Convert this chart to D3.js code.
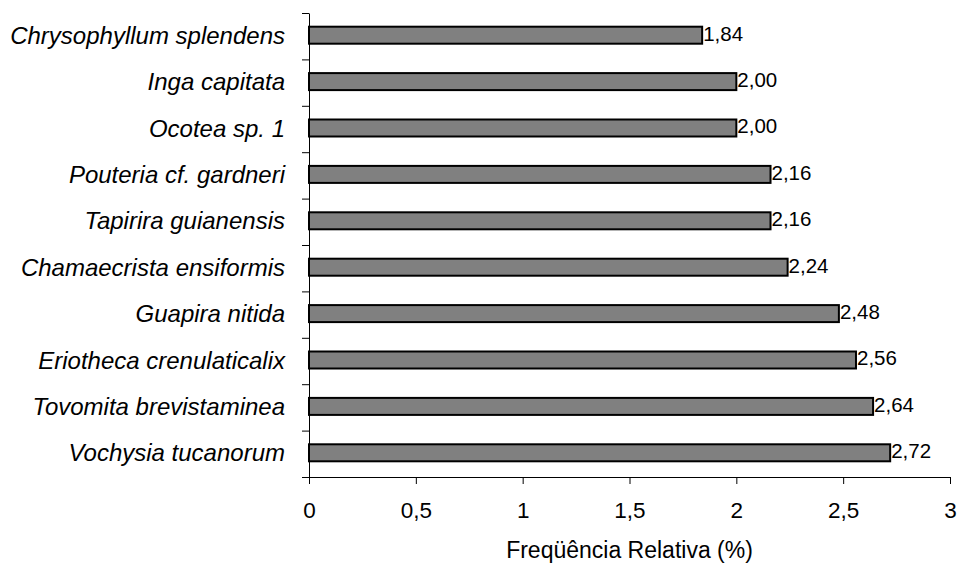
<!DOCTYPE html>
<html>
<head>
<meta charset="utf-8">
<script src="https://cdn.jsdelivr.net/npm/d3@7"></script>
<style>
  body { margin: 0; background: #fff; }
  svg { display: block; font-family: "Liberation Sans", Arial, sans-serif; }
</style>
</head>
<body>
<div id="chart"></div>
<script>
'use strict';

var species = [
  'Chrysophyllum splendens',
  'Inga capitata',
  'Ocotea sp. 1',
  'Pouteria cf. gardneri',
  'Tapirira guianensis',
  'Chamaecrista ensiformis',
  'Guapira nitida',
  'Eriotheca crenulaticalix',
  'Tovomita brevistaminea',
  'Vochysia tucanorum'
];
var freqValues = [1.84, 2.00, 2.00, 2.16, 2.16, 2.24, 2.48, 2.56, 2.64, 2.72];
var xTickValues = [0, 0.5, 1, 1.5, 2, 2.5, 3];
var xTitle = 'Freqüência Relativa (%)';

function makeBarChart(containerSelector) {
  var width = 959;
  var height = 563;
  var margin = {top: 13, right: 9, bottom: 86, left: 309};
  var innerW = width - margin.left - margin.right;
  var innerH = height - margin.top - margin.bottom;
  var fmt = function(v) { return d3.format('.2f')(v).replace('.', ','); };

  var svg = d3.select(containerSelector)
    .append('svg')
    .attr('width', width)
    .attr('height', height);

  var g = svg.append('g')
    .attr('transform', 'translate(' + margin.left + ',' + margin.top + ')');

  var x = d3.scaleLinear().domain([0, 3]).range([0, innerW]);
  var y = d3.scaleBand().domain(species).range([0, innerH]);
  var edge = d3.scaleLinear().domain([0, species.length]).range([0, innerH]);

  var barH = 17;

  // bars
  g.selectAll('.bar')
    .data(species)
    .enter().append('rect')
    .attr('class', 'bar')
    .attr('x', 0)
    .attr('y', function(d) { return y(d) + y.bandwidth() / 2 - barH / 2 - 1; })
    .attr('width', function(d, i) { return x(freqValues[i]); })
    .attr('height', barH)
    .attr('fill', '#808080')
    .attr('stroke', '#000')
    .attr('stroke-width', 2);

  // value labels
  g.selectAll('.val')
    .data(species)
    .enter().append('text')
    .attr('class', 'val')
    .attr('x', function(d, i) { return x(freqValues[i]) + 1; })
    .attr('y', function(d) { return y(d) + y.bandwidth() / 2 - 3; })
    .attr('dy', '0.36em')
    .style('font-size', '20.5px')
    .attr('fill', '#000')
    .text(function(d, i) { return fmt(freqValues[i]); });

  // category labels
  g.selectAll('.cat')
    .data(species)
    .enter().append('text')
    .attr('class', 'cat')
    .attr('x', -24)
    .attr('y', function(d) { return y(d) + y.bandwidth() / 2 - 1; })
    .attr('dy', '0.36em')
    .attr('text-anchor', 'end')
    .style('font-size', '24px')
    .style('font-style', 'italic')
    .attr('fill', '#000')
    .text(function(d) { return d; });

  // y axis: ticks at band edges, no labels
  var yAxis = d3.axisLeft(edge)
    .tickValues(d3.range(species.length + 1))
    .tickFormat('')
    .tickSize(7)
    .tickSizeOuter(0);

  g.append('g')
    .attr('class', 'axis axis--y')
    .call(yAxis);

  var xAxis = d3.axisBottom(x)
    .tickValues(xTickValues)
    .tickFormat(function(d) { return String(d).replace('.', ','); })
    .tickSize(7)
    .tickSizeOuter(0)
    .tickPadding(18);

  var xg = g.append('g')
    .attr('class', 'axis axis--x')
    .attr('transform', 'translate(0,' + innerH + ')')
    .call(xAxis);

  xg.selectAll('text')
    .style('font-size', '22.5px')
    .attr('fill', '#000');

  svg.selectAll('.axis path, .axis line')
    .attr('stroke', '#000');
  svg.selectAll('.axis').attr('font-family', null);

  svg.append('text')
    .attr('x', margin.left + innerW / 2)
    .attr('y', 550)
    .attr('dy', '0.36em')
    .attr('text-anchor', 'middle')
    .style('font-size', '23px')
    .attr('fill', '#000')
    .text(xTitle);
}

makeBarChart('#chart');
</script>
</body>
</html>
